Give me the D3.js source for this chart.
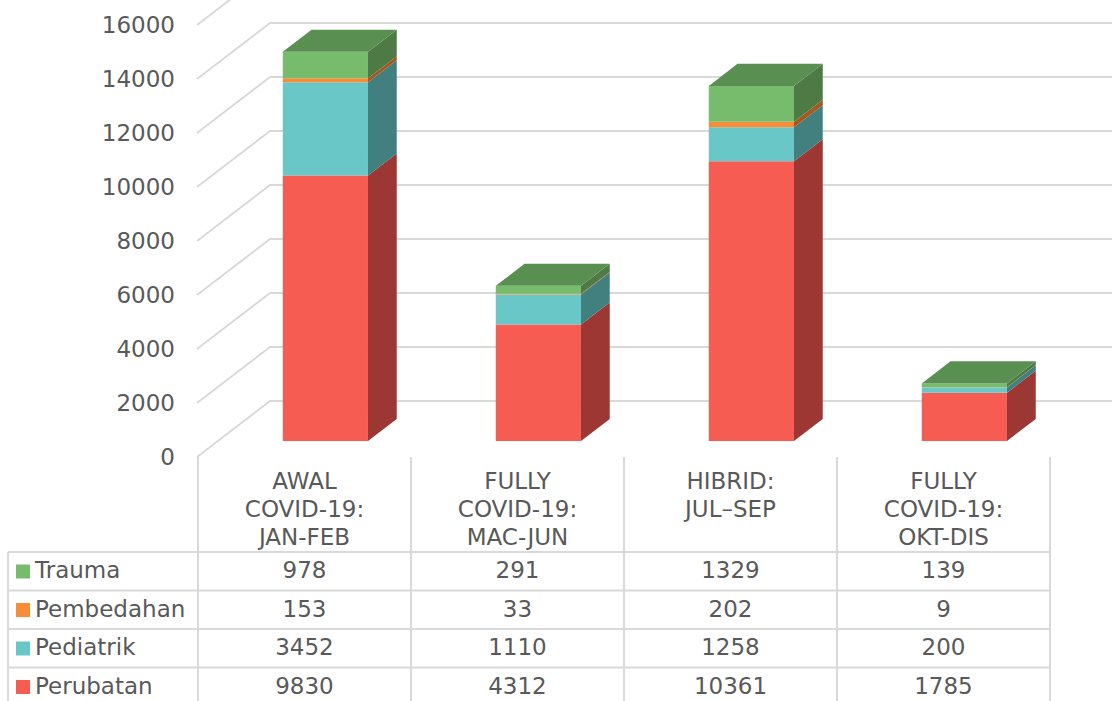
<!DOCTYPE html>
<html>
<head>
<meta charset="utf-8">
<script src="https://cdn.jsdelivr.net/npm/d3@7"></script>
<style>
  body { margin: 0; background: #fff; }
  text { font-family: "DejaVu Sans", Verdana, sans-serif; fill: #595959; }
</style>
</head>
<body>
<script>
const w = 1112;
const h = 701;

// data
const categories = ["AWAL COVID-19: JAN-FEB", "FULLY COVID-19: MAC-JUN", "HIBRID: JUL–SEP", "FULLY COVID-19: OKT-DIS"];
const categoryLines = [["AWAL", "COVID-19:", "JAN-FEB"], ["FULLY", "COVID-19:", "MAC-JUN"], ["HIBRID:", "JUL–SEP"], ["FULLY", "COVID-19:", "OKT-DIS"]];
const seriesNames = ["Perubatan", "Pediatrik", "Pembedahan", "Trauma"];
const perubatan = [9830, 4312, 10361, 1785];
const pediatrik = [3452, 1110, 1258, 200];
const pembedahan = [153, 33, 202, 9];
const trauma = [978, 291, 1329, 139];
const yTicks = [0, 2000, 4000, 6000, 8000, 10000, 12000, 14000, 16000];

const seriesValues = [perubatan, pediatrik, pembedahan, trauma];
const frontColors = ["#f75c53", "#69c7c8", "#f78d36", "#77bb6c"];
const sideColors = ["#9c3733", "#41807f", "#a3591f", "#4e7a46"];
const topColor = "#5a8f52";

const svg = d3.select("body")
  .append("svg")
  .attr("width", w)
  .attr("height", h);

const y = d3.scaleLinear().domain([0, 16000]).range([457, 25]);
const x = d3.scaleBand().domain(categories).range([198, 1050]);

// depth offsets of the 3d box
const depthX = 73;
const depthY = 56;
const barFront = 0.286;
const barBack = 0.68;
const barWidth = x.bandwidth() * 0.4;

function proj(px, v, d) {
  return [px + d * depthX, y(v) - d * depthY];
}

// gridlines (front diagonal + back wall)
svg.append("g")
  .selectAll("path")
  .data(yTicks)
  .enter()
  .append("path")
  .attr("d", v => {
    let a = proj(197, v, 0);
    let b = proj(197, v, 1);
    return "M" + a + "L" + b + "L" + [w, b[1]];
  })
  .attr("fill", "none")
  .attr("stroke", "#d9d9d9")
  .attr("stroke-width", 2);

// y axis labels
let yAxis = d3.axisLeft(y).tickValues(yTicks).tickSize(0).tickPadding(0).tickFormat(d3.format("d"));
let yAxisGroup = svg.append("g")
  .attr("transform", "translate(175, 0)")
  .call(yAxis);
yAxisGroup.select(".domain").remove();
yAxisGroup.selectAll("text")
  .style("font-family", "DejaVu Sans")
  .style("font-size", "23px")
  .attr("fill", "#595959");

// stacked 3d bars
const barsG = svg.append("g");
categories.forEach((c, ci) => {
  let base = 0;
  let x0 = x(c) + (x.bandwidth() - barWidth) / 2;
  let x1 = x0 + barWidth;
  seriesValues.forEach((vals, si) => {
    let v0 = base;
    let v1 = base + vals[ci];
    base = v1;
    let f0 = proj(x0, v0, barFront), f1 = proj(x1, v0, barFront);
    let f2 = proj(x1, v1, barFront), f3 = proj(x0, v1, barFront);
    let b1 = proj(x1, v0, barBack), b2 = proj(x1, v1, barBack);
    // front face
    barsG.append("polygon")
      .attr("points", [f0, f1, f2, f3].join(" "))
      .attr("fill", frontColors[si]);
    // side face
    barsG.append("polygon")
      .attr("points", [f1, b1, b2, f2].join(" "))
      .attr("fill", sideColors[si]);
    if (si === seriesValues.length - 1) {
      let b3 = proj(x0, v1, barBack);
      barsG.append("polygon")
        .attr("points", [f3, f2, b2, b3].join(" "))
        .attr("fill", topColor);
    }
  });
});

// data table
const rowTop = 552;
const rowH = 38.5;
const tableRows = [
  { name: "Trauma", vals: trauma, color: frontColors[3] },
  { name: "Pembedahan", vals: pembedahan, color: frontColors[2] },
  { name: "Pediatrik", vals: pediatrik, color: frontColors[1] },
  { name: "Perubatan", vals: perubatan, color: frontColors[0] }
];
const table = svg.append("g");
const lineColor = "#d9d9d9";

// vertical lines
[198].concat(categories.map(c => x(c) + x.bandwidth())).forEach(px => {
  table.append("line")
    .attr("x1", px).attr("x2", px)
    .attr("y1", 457).attr("y2", h + 10)
    .attr("stroke", lineColor).attr("stroke-width", 2);
});
table.append("line")
  .attr("x1", 8).attr("x2", 8)
  .attr("y1", rowTop).attr("y2", h + 10)
  .attr("stroke", lineColor).attr("stroke-width", 2);
// horizontal lines
d3.range(5).forEach(i => {
  table.append("line")
    .attr("x1", 8).attr("x2", 1050)
    .attr("y1", rowTop + i * rowH).attr("y2", rowTop + i * rowH)
    .attr("stroke", lineColor).attr("stroke-width", 2);
});

// header text
categories.forEach((c, ci) => {
  let t = table.append("text")
    .attr("text-anchor", "middle")
    .style("font-size", "23px");
  categoryLines[ci].forEach((line, li) => {
    t.append("tspan")
      .attr("x", x(c) + x.bandwidth() / 2)
      .attr("y", 489 + li * 28)
      .text(line);
  });
});

// row labels, legend keys and values
tableRows.forEach((r, ri) => {
  let top = rowTop + ri * rowH;
  table.append("rect")
    .attr("x", 16).attr("y", top + 12.5)
    .attr("width", 14).attr("height", 14)
    .attr("fill", r.color);
  table.append("text")
    .attr("x", 35).attr("y", top + 26)
    .style("font-size", "23px")
    .text(r.name);
  categories.forEach((c, ci) => {
    table.append("text")
      .attr("x", x(c) + x.bandwidth() / 2)
      .attr("y", top + 26)
      .attr("text-anchor", "middle")
      .style("font-size", "23px")
      .text(r.vals[ci]);
  });
});
</script>
</body>
</html>
